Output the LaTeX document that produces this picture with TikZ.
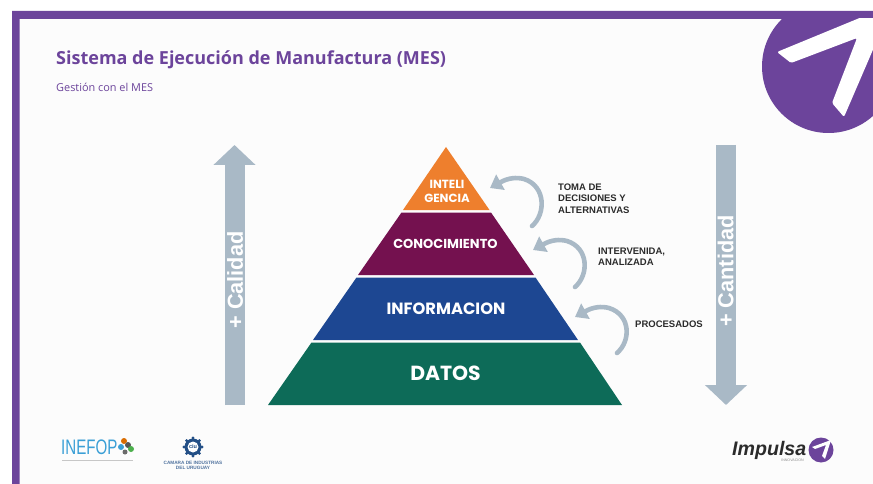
\documentclass[tikz,border=0pt]{standalone}
\usepackage{fontspec}
\setmainfont{Open Sans}
\newfontfamily\arialf{Liberation Sans}
\newfontfamily\popf{Poppins}
\usetikzlibrary{arrows.meta}
\definecolor{brandpurple}{HTML}{6C449B}
\definecolor{steelgray}{HTML}{A9B9C6}
\definecolor{orangelayer}{HTML}{EE7F2D}
\definecolor{maroonlayer}{HTML}{74114F}
\definecolor{bluelayer}{HTML}{1D4792}
\definecolor{greenlayer}{HTML}{0D6B58}
\definecolor{inkdark}{HTML}{2B2B2B}
\definecolor{inefopblue}{HTML}{3A9FD6}
\definecolor{ciunavy}{HTML}{234F86}
\tikzset{
  x=1pt,y=-1pt,
  layerlabel/.style={text=white,inner sep=0pt,align=center},
  sidelabel/.style={font=\arialf\bfseries\fontsize{21.7}{22}\selectfont,text=white,inner sep=0pt,rotate=90},
  notelabel/.style={font=\arialf\bfseries\fontsize{9.5}{11.3}\selectfont,text=inkdark,inner sep=0pt,align=left,anchor=west},
  bigarrow/.style={draw=steelgray,line width=20pt,-{Triangle[length=20pt,width=41pt]},shorten >=0pt},
  curvearrow/.style={draw=steelgray,line width=4.6pt,line cap=round,-{Triangle[length=12pt,width=17pt]}},
}
\begin{document}
\begin{tikzpicture}
\useasboundingbox (0,0) rectangle (873,484);
\fill[white] (0,0) rectangle (873,484);
\fill[black!1] (19,19) rectangle (873,484);
% frame
\fill[brandpurple] (12,484) -- (12,11) -- (873,11) -- (873,19) -- (19.5,19) -- (19.5,484) -- cycle;
% corner logo
\begin{scope}
\clip (0,19) rectangle (873,484);
\fill[brandpurple] (828.5,66.5) circle (66.5);
\fill[white,rounded corners=1.5pt] (777,52) -- (862,17) -- (875,17) -- (875,45) -- (844,117) -- (832,103) -- (857,38) -- (791,63) -- cycle;
\end{scope}
% titles
\node[anchor=west,inner sep=0pt,text=brandpurple,font=\bfseries\fontsize{18}{20}\selectfont] (title) at (56,60) {Sistema de Ejecución de Manufactura (MES)};
\node[anchor=west,inner sep=0pt,text=brandpurple,font=\fontsize{10.9}{12}\selectfont] (subtitle) at (56,87) {Gestión con el MES};
% pyramid
\fill[orangelayer] (446,147) -- (489.5,210) -- (403,210) -- cycle;
\fill[maroonlayer] (401.5,212.5) -- (491,212.5) -- (534,275) -- (358,275) -- cycle;
\fill[bluelayer] (356.5,277.5) -- (535.5,277.5) -- (578,340) -- (313,340) -- cycle;
\fill[greenlayer] (311.5,342.5) -- (580,342.5) -- (622,405) -- (268,405) -- cycle;
\node[layerlabel,font=\popf\bfseries\fontsize{11.8}{13.5}\selectfont] (intel) at (447,191.5) {INTELI\\GENCIA};
\node[layerlabel,font=\popf\bfseries\fontsize{13}{14}\selectfont] (conoc) at (445.5,243.5) {CONOCIMIENTO};
\node[layerlabel,font=\popf\bfseries\fontsize{16.3}{18}\selectfont] (info) at (446,308.5) {INFORMACION};
\node[layerlabel,font=\popf\bfseries\fontsize{20.4}{22}\selectfont] (datos) at (445.5,373.5) {DATOS};
% side arrows
\coordinate (calbot) at (234.5,405);
\coordinate (caltop) at (234.5,145);
\coordinate (cantop) at (726,145);
\coordinate (canbot) at (726,405);
\draw[bigarrow] (calbot) -- (caltop);
\draw[bigarrow] (cantop) -- (canbot);
\node[sidelabel] (calidad) at (235,280) {+ Calidad};
\node[sidelabel] (cantidad) at (725.5,271) {+ Cantidad};
% curved arrows
\coordinate (a1s) at (532,226); \coordinate (a1e) at (490,188);
\coordinate (a2s) at (575,287); \coordinate (a2e) at (533,250);
\coordinate (a3s) at (617,353); \coordinate (a3e) at (575,317);
\draw[curvearrow] (a1s) .. controls (546,214) and (546,186) .. (524,179) .. controls (516,177) and (508,178) .. (a1e);
\draw[curvearrow] (a2s) .. controls (589,275) and (589,248) .. (567,241) .. controls (559,239) and (551,240) .. (a2e);
\draw[curvearrow] (a3s) .. controls (631,341) and (631,315) .. (609,308) .. controls (601,306) and (593,307) .. (a3e);
\node[notelabel] (n1) at (558,198.5) {TOMA DE\\DECISIONES Y\\ALTERNATIVAS};
\node[notelabel] (n2) at (598,257) {INTERVENIDA,\\ANALIZADA};
\node[notelabel] (n3) at (635,324) {PROCESADOS};
% INEFOP logo
\node[anchor=west,inner sep=0pt,text=inefopblue,font=\arialf\fontsize{21}{21}\selectfont] (inefop) at (61,447) {\scalebox{0.72}[1]{INEFOP}};
\fill[orange!85!black] (124,441) circle (3);
\fill[inkdark!80] (128,445) circle (3);
\fill[inefopblue] (121,447) circle (3);
\fill[green!55!black!70] (131,449) circle (3);
\fill[inkdark!70] (125,452) circle (2.5);
\fill[black!22] (62,459.5) rectangle (133,460.5);
% CIU logo
\fill[ciunavy] (193,447) circle (8.5);
\foreach \a in {0,45,...,315}{\fill[ciunavy] (193,447) ++(\a:9) circle (1.6);}
\fill[white] (193,447) circle (5.5);
\node[inner sep=0pt,text=ciunavy,font=\arialf\bfseries\fontsize{5.5}{6}\selectfont] (ciu) at (193,446.5) {ciu};
\node[inner sep=0pt,align=center,text=ciunavy!80,font=\arialf\bfseries\fontsize{4.7}{5.2}\selectfont] (camara) at (193,465) {CAMARA DE INDUSTRIAS\\DEL URUGUAY};
% Impulsa logo
\node[anchor=west,inner sep=0pt,text=inkdark,font=\arialf\bfseries\itshape\fontsize{19.6}{20}\selectfont] (impulsa) at (732,450) {Impulsa};
\node[anchor=east,inner sep=0pt,text=black!45,font=\arialf\fontsize{3.6}{4}\selectfont] (innov) at (804,460.5) {INNOVACION};
\fill[brandpurple] (821,450) circle (12.5);
\fill[white] (812,447) -- (831,440) -- (825,459) -- (822,456) -- (826,445) -- (815,449) -- cycle;
\end{tikzpicture}
\end{document}
